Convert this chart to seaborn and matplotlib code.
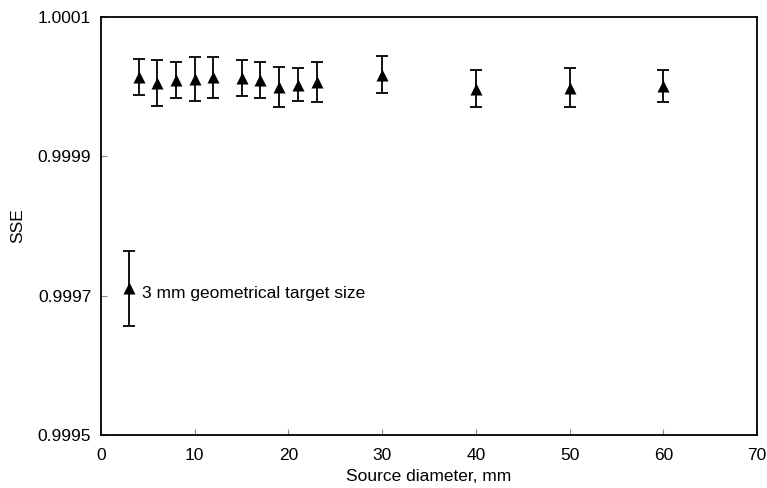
import numpy as np
import pandas as pd
import matplotlib
matplotlib.use("Agg")
import matplotlib.pyplot as plt
import seaborn as sns

# Source diameters (mm) and SSE values
diameter = [4, 6, 8, 10, 12, 15, 17, 19, 21, 23, 30, 40, 50, 60]
sse = [1.0000138, 1.0000049, 1.0000095, 1.0000106, 1.0000128, 1.0000118, 1.0000095,
       0.9999992, 1.0000027, 1.0000060, 1.0000168, 0.9999967, 0.9999980, 1.0000003]
sse_err = [2.55e-5, 3.30e-5, 2.55e-5, 3.11e-5, 2.90e-5, 2.61e-5, 2.55e-5,
           2.91e-5, 2.32e-5, 2.90e-5, 2.68e-5, 2.68e-5, 2.80e-5, 2.32e-5]

# the single reference point (3 mm geometrical target)
target_diameter = [3]
target_sse = [0.9997104]
target_err = [5.35e-5]
target_label = "3 mm geometrical target size"

df = pd.DataFrame({"diameter": diameter + target_diameter,
                   "sse": sse + target_sse,
                   "err": sse_err + target_err})

sns.set_style("ticks")
plt.rcParams['font.family'] = ['Liberation Sans', 'DejaVu Sans']
plt.rcParams['text.color'] = 'black'
plt.rcParams['axes.labelcolor'] = 'black'
plt.rcParams['xtick.labelcolor'] = 'black'
plt.rcParams['ytick.labelcolor'] = 'black'

fig = plt.figure(figsize=(7.67, 4.88), dpi=100)
ax = fig.add_axes([0.1317, 0.1086, 0.8553, 0.8572])

ax.errorbar(df["diameter"], df["sse"], yerr=df["err"], fmt="none",
            ecolor="black", elinewidth=1.3, capsize=4.3, capthick=1.3, zorder=2)
sns.scatterplot(data=df, x="diameter", y="sse", marker="^", s=75,
                color="black", edgecolor="black", linewidth=0, ax=ax, zorder=3)

ax.text(4.4, 0.9997036, target_label, ha="left", va="center", fontsize=12.5)

ax.set_xlim(0, 70)
ax.set_ylim(0.9995, 1.0001)
ax.set_xticks(np.arange(0, 71, 10))
ax.set_yticks([0.9995, 0.9997, 0.9999, 1.0001])
ax.set_yticklabels(["0.9995", "0.9997", "0.9999", "1.0001"])

ax.set_xlabel("Source diameter, mm", fontsize=12.5, labelpad=5)
ax.set_ylabel("SSE", fontsize=12.5, labelpad=9)

for side in ["top", "right", "bottom", "left"]:
    ax.spines[side].set_visible(True)
    ax.spines[side].set_color("black")
    ax.spines[side].set_linewidth(1.3)

ax.tick_params(axis="both", direction="in", length=4, width=0.8, color="#888888",
               labelsize=12.5)
ax.tick_params(axis="x", pad=9)
ax.tick_params(axis="y", pad=7)

fig.savefig("out.png", dpi=100)
